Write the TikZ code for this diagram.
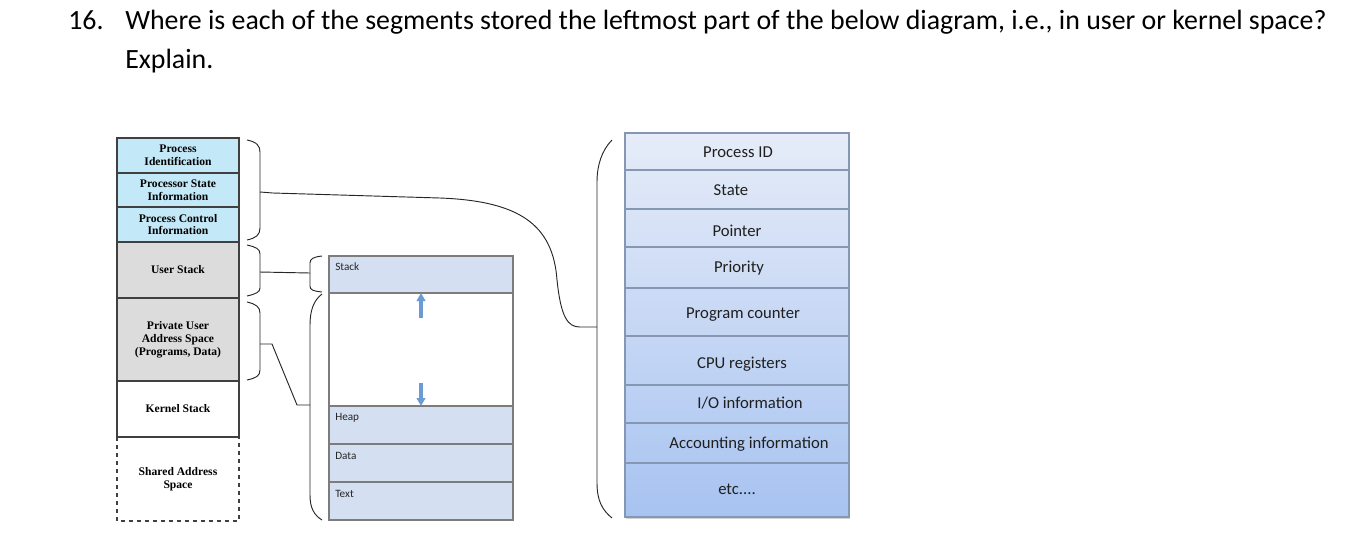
\documentclass[tikz,border=0pt]{standalone}
\usepackage{fontspec}
\setmainfont{Carlito}
\newfontfamily\boxserif{Liberation Serif}
\usepackage{xcolor}
\usepackage{tikz}
\usetikzlibrary{arrows.meta, positioning, fit, backgrounds, shadows}
\definecolor{C_CYAN}{HTML}{C3E8F7}
\definecolor{C_GRAY}{HTML}{DCDCDC}
\definecolor{C_MID} {HTML}{D4E0F2}
\definecolor{C_MBRD}{HTML}{7C7C7C}
\definecolor{C_ARR} {HTML}{6A9BD2}
\definecolor{C_TOP} {HTML}{E6ECF8}
\definecolor{C_BOT} {HTML}{A7C3F1}
\definecolor{C_LINE}{HTML}{8597B2}
\newlength\px
\setlength\px{0.75pt}
\newcommand\etcdots{etc....}
\tikzset{
  %% -- question text --
  qtext/.style={anchor=base west, inner sep=0pt, font=\fontsize{20.9}{25}\selectfont},
  %% -- left column (process image) --
  img/row/.style={
    draw=black!75, line width=0.8pt, outer sep=0pt, inner sep=1pt,
    minimum width=122\px, align=center,
    font=\boxserif\bfseries\fontsize{8.7}{9.6}\selectfont
  },
  %% -- middle column (memory layout) --
  mem/row/.style={
    draw=C_MBRD, line width=0.8pt, outer sep=0pt, fill=C_MID,
    minimum width=184\px, minimum height=38\px
  },
  mem/lbl/.style={font=\fontsize{8.4}{9}\selectfont, text=black!85, inner sep=0pt},
  mem/arr/.style={-{Triangle[length=6pt,width=6.5pt]}, line width=2.3pt, draw=C_ARR},
  %% -- right column (PCB) --
  pcb/row/.style={
    draw=C_LINE, line width=1pt, outer sep=0pt, anchor=north west,
    minimum width=224\px, minimum height=38\px
  },
  pcb/lbl/.style={font=\fontsize{12.5}{14}\selectfont, text=black!88, inner sep=0pt},
  %% -- braces and connectors --
  brace/.style={draw=black!85, line width=0.7pt},
  link/.style={draw=black!85, line width=0.7pt},
}
\begin{document}
\begin{tikzpicture}[x=0.75pt, y=-0.75pt]
\useasboundingbox (0,0) rectangle (1362,551);

%% Question text
\node[qtext] (qnum) at (68,29) {16.};
\node[qtext] (qline) at (125,29)
  {Where is each of the segments stored the leftmost part of the below diagram, i.e., in user or kernel space?};
\node[qtext] (qexp) at (125,68) {Explain.};

%% Left column
\node[img/row, fill=C_CYAN, minimum height=35\px, anchor=north west] (pid) at (117,138)
  {Process\\Identification};
\node[img/row, fill=C_CYAN, minimum height=34\px, below=0pt of pid] (pstate)
  {Processor State\\Information};
\node[img/row, fill=C_CYAN, minimum height=35\px, below=0pt of pstate] (pctrl)
  {Process Control\\Information};
\node[img/row, fill=C_GRAY, minimum height=56\px, below=0pt of pctrl] (ustack)
  {User Stack};
\node[img/row, fill=C_GRAY, minimum height=83\px, below=0pt of ustack] (uspace)
  {Private User\\Address Space\\(Programs, Data)};
\node[img/row, fill=white, minimum height=56\px, below=0pt of uspace] (kstack)
  {Kernel Stack};
\node[img/row, draw=none, minimum height=84\px, below=0pt of kstack] (shared)
  {Shared Address\\Space};
\draw[black!75, line width=0.8pt, dashed]
  (shared.north west) -- (shared.south west) -- (shared.south east) -- (shared.north east);

%% Middle column
\node[mem/row, minimum height=37\px, anchor=north west] (mstack) at (329,256) {};
\node[mem/row, fill=white, minimum height=113\px, below=0pt of mstack] (mgap) {};
\node[mem/row, below=0pt of mgap] (mheap) {};
\node[mem/row, below=0pt of mheap] (mdata) {};
\node[mem/row, below=0pt of mdata] (mtext) {};
\node[mem/lbl, anchor=west] (lstack) at (335,267) {Stack};
\node[mem/lbl, anchor=west] (lheap)  at (335,418) {Heap};
\node[mem/lbl, anchor=west] (ldata)  at (335,456) {Data};
\node[mem/lbl, anchor=west] (ltext)  at (335,494) {Text};
\coordinate (upfrom) at (421,318);
\coordinate (dnfrom) at (421,383);
\draw[mem/arr] (upfrom) -- (upfrom |- mstack.south);
\draw[mem/arr] (dnfrom) -- (dnfrom |- mheap.north);

%% Right column (PCB): name/text/top/height/label x/label y
\foreach \n/\t/\y/\h/\lx/\ly in {1/Process ID/133/37/738/152, 2/State/170/39/731/190,
    3/Pointer/209/38/737/231, 4/Priority/247/41/739/268,
    5/Program counter/288/48/743/315, 6/CPU registers/336/49/742/364,
    7/I\slash O information/385/38/750/403, 8/Accounting information/423/40/749/444,
    9/\etcdots/463/54/737/489}
{
  \node[pcb/row, minimum height=\h\px] (pcb\n) at (625,\y) {};
  \node[pcb/lbl] (pcbl\n) at (\lx,\ly) {\t};
}
\begin{scope}[on background layer]
  \node[fit=(pcb1)(pcb9), inner sep=0pt, draw=C_LINE!70, line width=0.8pt,
    top color=C_TOP, bottom color=C_BOT,
    drop shadow={shadow xshift=1pt, shadow yshift=-1.2pt, opacity=0.35}] (pcb) {};
\end{scope}

%% Braces
\draw[brace] (247,140) .. controls (257,142) and (260,146) .. (260,152)
  -- (260,228) .. controls (260,235) and (256,238) .. (247,240);
\draw[brace] (247,245) .. controls (256,247) and (260,249) .. (260,254)
  -- (260,288) .. controls (260,292) and (256,294) .. (247,296);
\draw[brace] (247,302) .. controls (256,304) and (260,307) .. (260,313)
  -- (260,370) .. controls (260,376) and (256,378) .. (247,380);
\draw[brace] (322,256) .. controls (313,257) and (310,259) .. (310,263)
  -- (310,286) .. controls (310,290) and (313,291) .. (322,292);
\draw[brace] (322,294) .. controls (314,300) and (310,310) .. (310,325)
  -- (310,495) .. controls (310,508) and (314,515) .. (322,520);
\draw[brace] (612,140) .. controls (602,150) and (597,165) .. (597,182)
  -- (597,483) .. controls (597,500) and (602,510) .. (612,518);
\coordinate (tpcb)  at (260,192);
\coordinate (tus)   at (260,272);
\coordinate (tups)  at (260,344);
\coordinate (tstk)  at (310,273);
\coordinate (tmem)  at (310,405);
\coordinate (tright) at (597,327);

%% Connectors
\draw[link] (tpcb) -- (273,193) -- (440,198)
  .. controls (520,201) and (553,225) .. (557,280)
  .. controls (561,318) and (568,327) .. (580,327) -- (tright);
\draw[link] (tus) -- (tstk);
\draw[link] (tups) -- (272,344) -- (297,405) -- (tmem);
\end{tikzpicture}
\end{document}
